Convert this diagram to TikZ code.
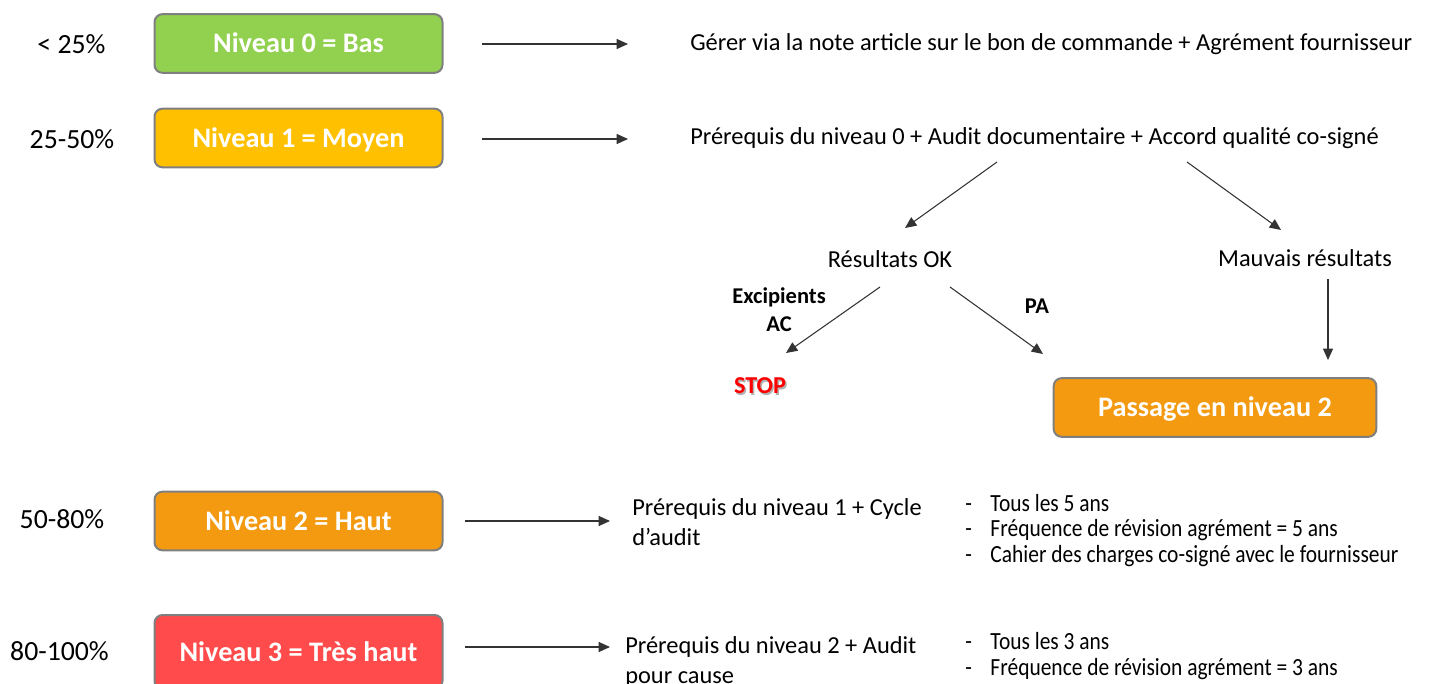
\documentclass[tikz,border=0pt]{standalone}
\usepackage{fontspec}
\setmainfont{Carlito}
\newfontfamily\narrowfont[FakeStretch=0.87]{Carlito}
\usetikzlibrary{arrows.meta,shadows}
\definecolor{lvlgreen}{HTML}{92D050}
\definecolor{lvlyellow}{HTML}{FFC000}
\definecolor{lvlorange}{HTML}{F39A10}
\definecolor{lvlred}{HTML}{FF4B4B}
\definecolor{lvlborder}{HTML}{7F7F7F}
\definecolor{stopred}{HTML}{FF0000}
\begin{document}
\begin{tikzpicture}[x=0.75pt,y=-0.75pt,
  lvlbox/.style={draw=lvlborder,line width=1.5pt,rounded corners=6pt,minimum width=216pt,minimum height=44pt,inner sep=0pt,text height=13.6pt,text depth=0pt,text=white,font=\fontsize{21.2}{24}\selectfont\bfseries},
  pct/.style={font=\fontsize{20.8}{24}\selectfont,inner sep=0pt},
  txt/.style={font=\fontsize{18.3}{22}\selectfont,inner sep=0pt,anchor=west},
  txtb/.style={font=\fontsize{18.3}{22.5}\selectfont,inner sep=0pt,anchor=north west,align=left},
  lbl/.style={font=\fontsize{16.9}{21}\selectfont\bfseries,inner sep=0pt,align=center},
  bul/.style={font=\narrowfont\fontsize{18.5}{19.2}\selectfont,inner sep=0pt,anchor=north west,align=left},
  arr/.style={-{Triangle[length=8.5pt,width=7.5pt]},line width=0.8pt,draw=black!80}
]
\useasboundingbox (0,0) rectangle (1430,684);
% level boxes
\node[lvlbox,fill=lvlgreen] (n0) at (298.5,43.5) {Niveau 0 = Bas};
\node[lvlbox,fill=lvlyellow] (n1) at (298.5,138) {Niveau 1 = Moyen};
\node[lvlbox,fill=lvlorange] (n2) at (298.5,521) {Niveau 2 = Haut};
\node[lvlbox,fill=lvlred,minimum height=55.5pt] (n3) at (298.5,652) {Niveau 3 = Très haut};
\node[lvlbox,fill=lvlorange,minimum width=242pt] (p2) at (1215,407.5) {Passage en niveau 2};
% percent labels
\node[pct] (c0) at (71.5,44) {< 25\%};
\node[pct] (c1) at (72,139) {25-50\%};
\node[pct] (c2) at (62,519) {50-80\%};
\node[pct] (c3) at (59.5,651) {80-100\%};
% arrow anchors
\coordinate (a0s) at (482,44); \coordinate (a0e) at (628,44);
\coordinate (a1s) at (482,139); \coordinate (a1e) at (628,139);
\coordinate (a2s) at (465,521); \coordinate (a2e) at (610,521);
\coordinate (a3s) at (465,647); \coordinate (a3e) at (610,647);
\draw[arr] (a0s) -- (a0e);
\draw[arr] (a1s) -- (a1e);
\draw[arr] (a2s) -- (a2e);
\draw[arr] (a3s) -- (a3e);
% texts
\node[txt] (t0) at (690,44) {Gérer via la note article sur le bon de commande + Agrément fournisseur};
\node[txt] (t1) at (690,138) {Prérequis du niveau 0 + Audit documentaire + Accord qualité co-signé};
\node[txtb] (t2) at (632,498.5) {Prérequis du niveau 1 + Cycle\\d’audit};
\node[txtb] (t3) at (625,636) {Prérequis du niveau 2 + Audit\\pour cause};
% result branch
\node[txt,anchor=center] (rok) at (890,259) {Résultats OK};
\node[txt,anchor=center] (rbad) at (1305,258) {Mauvais résultats};
\coordinate (b1s) at (997,162); \coordinate (b1e) at (905,228);
\coordinate (b2s) at (1187,162); \coordinate (b2e) at (1281,230);
\draw[arr] (b1s) -- (b1e);
\draw[arr] (b2s) -- (b2e);
\coordinate (b3s) at (1328,279); \coordinate (b3e) at (1328,360);
\draw[arr] (b3s) -- (b3e);
\coordinate (b4s) at (880,287); \coordinate (b4e) at (786,353);
\coordinate (b5s) at (950,287); \coordinate (b5e) at (1043,354);
\draw[arr] (b4s) -- (b4e);
\draw[arr] (b5s) -- (b5e);
\node[lbl] (exc) at (779,310) {Excipients\\AC};
\node[lbl] (pa) at (1037,306) {PA};
\node[lbl,text=black!30,font=\fontsize{18.2}{21}\selectfont\bfseries] (stopsh) at (761.5,387.5) {STOP};
\node[lbl,text=stopred,font=\fontsize{18.2}{21}\selectfont\bfseries] (stop) at (760,386) {STOP};
% bullets
\node[bul] (l2) at (965,494) {-\hspace{14pt}Tous les 5 ans\\-\hspace{14pt}Fréquence de révision agrément = 5 ans\\-\hspace{14pt}Cahier des charges co-signé avec le fournisseur};
\node[bul] (l3) at (965,632.5) {-\hspace{14pt}Tous les 3 ans\\-\hspace{14pt}Fréquence de révision agrément = 3 ans};
\end{tikzpicture}
\end{document}
